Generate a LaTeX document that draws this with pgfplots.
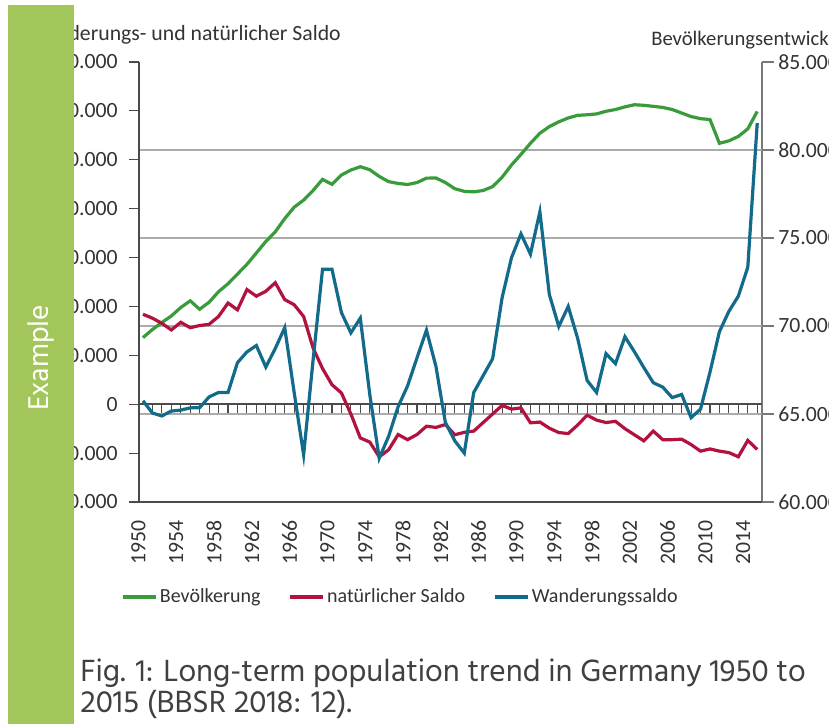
\documentclass[border=0pt]{standalone}
\usepackage{pgfplots}
\usepackage{pgfplotstable}
\pgfplotsset{compat=1.18}
\usepackage{fontspec}
\setmainfont{Carlito}
\newfontfamily\capfont{Hind Madurai}

\definecolor{sidegreen}{HTML}{A3C65A}
\definecolor{popgreen}{HTML}{3A9B3C}
\definecolor{natred}{HTML}{B3123F}
\definecolor{migblue}{HTML}{136B8C}
\definecolor{axisgray}{HTML}{4A4A4A}
\definecolor{gridgray}{HTML}{ABABAB}
\definecolor{txtgray}{HTML}{333333}
\definecolor{capgray}{HTML}{404040}

% Bevoelkerung in 1.000
\pgfplotstableread{
year pop
1950 69340
1951 69800
1952 70200
1953 70570
1954 71050
1955 71430
1956 70950
1957 71350
1958 71950
1959 72400
1960 72950
1961 73500
1962 74150
1963 74800
1964 75350
1965 76100
1966 76750
1967 77150
1968 77700
1969 78330
1970 78050
1971 78580
1972 78860
1973 79050
1974 78880
1975 78500
1976 78200
1977 78100
1978 78040
1979 78150
1980 78400
1981 78410
1982 78150
1983 77800
1984 77650
1985 77620
1986 77700
1987 77920
1988 78450
1989 79150
1990 79750
1991 80380
1992 80950
1993 81330
1994 81600
1995 81820
1996 81970
1997 82000
1998 82050
1999 82200
2000 82300
2001 82450
2002 82570
2003 82540
2004 82480
2005 82420
2006 82300
2007 82100
2008 81900
2009 81780
2010 81730
2011 80380
2012 80520
2013 80770
2014 81200
2015 82190
}\poptable

% natuerlicher Saldo und Wanderungssaldo
\pgfplotstableread{
year nat mig
1950 368000 14000
1951 352000 -36000
1952 331000 -48000
1953 304000 -28000
1954 335000 -24000
1955 313000 -15000
1956 322000 -14000
1957 327000 30000
1958 359000 48000
1959 414000 48000
1960 386000 170000
1961 469000 214000
1962 442000 240000
1963 462000 152000
1964 497000 228000
1965 428000 313000
1966 407000 48000
1967 359000 -207000
1968 230000 180000
1969 146000 552000
1970 80000 552000
1971 46000 375000
1972 -40000 292000
1973 -138000 352000
1974 -155000 40000
1975 -215000 -221000
1976 -186000 -131000
1977 -124000 -10000
1978 -145000 75000
1979 -124000 190000
1980 -90000 303000
1981 -95000 155000
1982 -83000 -75000
1983 -125000 -150000
1984 -115000 -200000
1985 -110000 48000
1986 -75000 117000
1987 -40000 186000
1988 -5000 435000
1989 -20000 600000
1990 -15000 697000
1991 -76000 614000
1992 -73000 787000
1993 -98000 449000
1994 -116000 318000
1995 -120000 400000
1996 -85000 269000
1997 -45000 97000
1998 -65000 48000
1999 -75000 207000
2000 -70000 166000
2001 -100000 276000
2002 -125000 215000
2003 -150000 150000
2004 -110000 88000
2005 -145000 70000
2006 -145000 27000
2007 -143000 40000
2008 -165000 -55000
2009 -192000 -20000
2010 -183000 131000
2011 -192000 297000
2012 -198000 380000
2013 -215000 442000
2014 -148000 560000
2015 -185000 1150000
}\saldotable

\pgfplotsset{
  common/.style={
    at={(104.25pt,166.5pt)}, anchor=south west,
    width=467pt, height=330pt, scale only axis,
    xmin=1949.58, xmax=2015.47,
    scaled y ticks=false,
    tick align=outside,
    major tick length=7.5pt,
    yticklabel style={font=\fontsize{16.3}{17}\selectfont, text=txtgray,
      /pgf/number format/fixed, /pgf/number format/precision=0,
      /pgf/number format/1000 sep={.}, /pgf/number format/assume math mode=true},
  },
}

\begin{document}
\begin{tikzpicture}[x=0.75pt,y=0.75pt]
\useasboundingbox (0,0) rectangle (829,724);
\clip (0,0) rectangle (829,724);
\fill[white] (0,0) rectangle (829,724);

% rechte Achse: Bevoelkerung
\begin{axis}[common,
  ymin=60000, ymax=85000,
  axis x line=none,
  axis y line*=right,
  axis line style={-, gridgray!70!black, line width=1.5pt},
  ytick={60000,65000,...,85000},
  y tick style={gridgray!70!black, line width=0.8pt},
  major tick length=9pt,
]
\pgfplotsinvokeforeach{65000,70000,75000,80000}{
  \draw[gridgray, line width=1.3pt] (axis cs:1949.58,#1) -- (axis cs:2015.47,#1);
}
\addplot[popgreen, line width=2.4pt] table[x=year, y=pop] {\poptable};
\end{axis}

% linke Achse: Salden
\begin{axis}[common,
  ymin=-400000, ymax=1400000,
  axis x line*=bottom,
  axis y line*=left,
  axis line style={-, axisgray, line width=1.5pt},
  ytick={-400000,-200000,...,1400000},
  y tick style={axisgray, line width=0.8pt},
  yticklabel style={xshift=-5pt},
  xtick={1950,1954,...,2014},
  x tick style={draw=none},
  xticklabel style={xshift=-3.4pt, yshift=-3pt, rotate=90, anchor=east,
    font=\fontsize{16.3}{17}\selectfont, text=txtgray,
    /pgf/number format/1000 sep={}, /pgf/number format/assume math mode=true},
  legend columns=3,
  legend style={at={(axis description cs:-0.03,-0.216)}, anchor=west,
    draw=none, fill=none, inner sep=0pt,
    font=\fontsize{15}{17}\selectfont, text=txtgray,
    nodes={inner sep=1.5pt},
    /tikz/every even column/.append style={column sep=19pt}},
  legend image code/.code={\draw[#1, line width=3pt] (0pt,0pt) -- (25pt,0pt);},
]
\addlegendimage{popgreen}
\addlegendentry{Bevölkerung}
\draw[axisgray, line width=1.5pt] (axis cs:1949.58,0) -- (axis cs:2015.47,0);
\pgfplotsinvokeforeach{1951,...,2015}{
  \draw[axisgray, line width=0.8pt] (axis cs:#1,0) -- ++(0pt,-6.8pt);
}
\addplot[natred, line width=2.4pt] table[x=year, y=nat] {\saldotable};
\addlegendentry{natürlicher Saldo}
\addplot[migblue, line width=2.4pt] table[x=year, y=mig] {\saldotable};
\addlegendentry{Wanderungssaldo}
\end{axis}

% Achsentitel
\node[anchor=east, inner sep=0pt, text=txtgray, font=\fontsize{16.3}{18}\selectfont]
  at (341,689) {Wanderungs- und natürlicher Saldo};
\node[anchor=west, inner sep=0pt, text=txtgray, font=\fontsize{15.5}{18}\selectfont]
  at (651,684) {Bevölkerungsentwicklung};

% Seitenleiste
\fill[sidegreen] (8,0) rectangle (74,719);
\node[rotate=90, text=white, inner sep=0pt, font=\capfont\fontsize{22}{24}\selectfont]
  at (41,366) {Example};

% Bildunterschrift
\node[anchor=base west, inner sep=0pt, text=capgray, font=\capfont\fontsize{23.6}{24}\selectfont]
  at (80,42) {Fig. 1: Long-term population trend in Germany 1950 to};
\node[anchor=base west, inner sep=0pt, text=capgray, font=\capfont\fontsize{23.6}{24}\selectfont]
  at (80,11) {2015 (BBSR 2018: 12).};
\end{tikzpicture}
\end{document}
